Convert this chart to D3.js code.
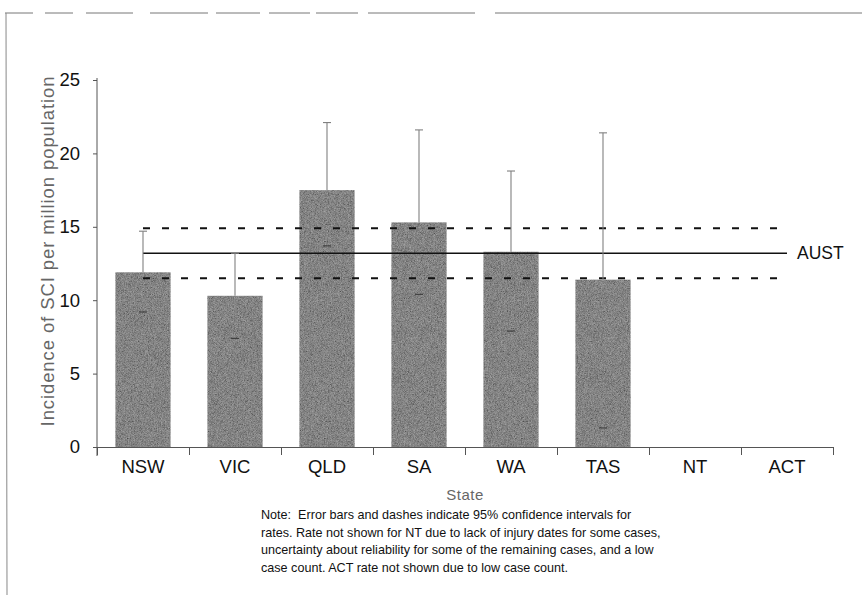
<!DOCTYPE html>
<html>
<head>
<meta charset="utf-8">
<script src="https://cdn.jsdelivr.net/npm/d3@7"></script>
<style>
  body { margin: 0; background: #fff; }
  svg { display: block; font-family: "Liberation Sans", Arial, sans-serif; }
</style>
</head>
<body>
<div id="chart"></div>
<script>
// incidence of SCI per million population, by state
var states = ['NSW', 'VIC', 'QLD', 'SA', 'WA', 'TAS', 'NT', 'ACT'];
var rates  = [11.9, 10.3, 17.5, 15.3, 13.3, 11.4, null, null];
var ciLow  = [9.2, 7.4, 13.7, 10.4, 7.9, 1.3, null, null];
var ciHigh = [14.7, 13.2, 22.1, 21.6, 18.8, 21.4, null, null];
var yTicks = [0, 5, 10, 15, 20, 25];
// national rate and its 95% CI
var aust = { label: 'AUST', rate: 13.2, low: 11.5, high: 14.9 };
var noteLines = [
  'Note:  Error bars and dashes indicate 95% confidence intervals for',
  'rates. Rate not shown for NT due to lack of injury dates for some cases,',
  'uncertainty about reliability for some of the remaining cases, and a low',
  'case count. ACT rate not shown due to low case count.'
];

var width = 862, height = 595;
var plotL = 97, plotR = 833, plotT = 80, plotB = 447;

var svg = d3.select('#chart').append('svg')
  .attr('width', width)
  .attr('height', height);

// grainy fill, like the printed bars
var f = svg.append('defs').append('filter').attr('id', 'grain')
  .attr('x', 0).attr('y', 0).attr('width', '100%').attr('height', '100%');
f.append('feTurbulence').attr('type', 'fractalNoise')
  .attr('baseFrequency', 1.3).attr('numOctaves', 2).attr('seed', 3).attr('result', 'noise');
f.append('feColorMatrix').attr('in', 'noise').attr('type', 'saturate')
  .attr('values', 0).attr('result', 'grey');
var ct = f.append('feComponentTransfer').attr('in', 'grey').attr('result', 'tone');
['feFuncR', 'feFuncG', 'feFuncB'].forEach(function (n) {
  ct.append(n).attr('type', 'linear').attr('slope', 0.5).attr('intercept', -0.02);
});
ct.append('feFuncA').attr('type', 'linear').attr('slope', 0).attr('intercept', 1);
f.append('feComposite').attr('in', 'tone').attr('in2', 'SourceGraphic').attr('operator', 'in');

// page frame (scanned look)
svg.append('line')
  .attr('x1', 5).attr('x2', 862).attr('y1', 13).attr('y2', 13)
  .attr('stroke', '#777').attr('stroke-width', 1)
  .attr('stroke-dasharray', '28 12 28 13 47 17 58 8 44 9 41 6 42 10 107 20 400');
svg.append('line')
  .attr('x1', 6).attr('x2', 7).attr('y1', 13).attr('y2', 595)
  .attr('stroke', '#888').attr('stroke-width', 1);

var x = d3.scaleBand().domain(states).range([plotL, plotR])
  .paddingInner(0.4).paddingOuter(0.2);
var xEdge = d3.scaleLinear().domain([0, states.length]).range([plotL, plotR]);
var y = d3.scaleLinear().domain([0, 25]).range([plotB, plotT]);
var cx = function (d) { return x(d.state) + x.bandwidth() / 2; };

var data = states.map(function (s, i) {
  return { state: s, rate: rates[i], lo: ciLow[i], hi: ciHigh[i] };
}).filter(function (d) { return d.rate != null; });

// bars
svg.append('g').selectAll('rect')
  .data(data).enter().append('rect')
  .attr('x', function (d) { return x(d.state); })
  .attr('width', x.bandwidth())
  .attr('y', function (d) { return y(d.rate); })
  .attr('height', function (d) { return y(0) - y(d.rate); })
  .attr('fill', '#6c6c6c')
  .attr('filter', 'url(#grain)');

// national line + CI dashes
var xa = x('NSW') + x.bandwidth() / 2, xb = x('ACT') + x.bandwidth() / 2;
svg.append('line')
  .attr('x1', xa).attr('x2', xb)
  .attr('y1', y(aust.rate)).attr('y2', y(aust.rate))
  .attr('stroke', '#111').attr('stroke-width', 1.6);
[aust.low, aust.high].forEach(function (v) {
  svg.append('line')
    .attr('x1', xa).attr('x2', xb)
    .attr('y1', y(v)).attr('y2', y(v))
    .attr('stroke', '#111').attr('stroke-width', 2)
    .attr('stroke-dasharray', '7 12');
});
svg.append('text')
  .attr('x', xb + 10).attr('y', y(aust.rate) + 6)
  .attr('font-size', 17.5).attr('fill', '#111')
  .text(aust.label);

// error bars: only the part above the bar shows in print, plus the low cap
var eb = svg.append('g').selectAll('g')
  .data(data).enter().append('g')
  .attr('stroke', '#808080').attr('stroke-width', 1.1);
eb.append('line')
  .attr('x1', cx).attr('x2', cx)
  .attr('y1', function (d) { return y(d.rate); })
  .attr('y2', function (d) { return y(d.hi); });
eb.append('line')
  .attr('x1', function (d) { return cx(d) - 4; })
  .attr('x2', function (d) { return cx(d) + 4; })
  .attr('y1', function (d) { return y(d.hi); })
  .attr('y2', function (d) { return y(d.hi); });
eb.append('line')
  .attr('x1', function (d) { return cx(d) - 4; })
  .attr('x2', function (d) { return cx(d) + 4; })
  .attr('y1', function (d) { return y(d.lo); })
  .attr('y2', function (d) { return y(d.lo); })
  .attr('stroke', '#3a3a3a');

// y axis
var yAxis = svg.append('g')
  .attr('transform', 'translate(' + plotL + ',0)')
  .call(d3.axisLeft(y).tickValues(yTicks).tickSize(4).tickPadding(13));
yAxis.select('.domain').remove();
yAxis.selectAll('line').attr('stroke', '#555');
yAxis.selectAll('text').attr('font-size', 18.5).attr('fill', '#111')
  .attr('font-family', '"Liberation Sans", Arial, sans-serif');
svg.append('line')
  .attr('x1', plotL).attr('x2', plotL).attr('y1', plotT - 2).attr('y2', plotB + 9)
  .attr('stroke', '#555').attr('stroke-width', 1);

// x axis: edge ticks + centred labels
var xTicks = svg.append('g')
  .attr('transform', 'translate(0,' + plotB + ')')
  .call(d3.axisBottom(xEdge).tickValues(d3.range(states.length + 1))
    .tickSize(8).tickFormat(''));
xTicks.selectAll('line, path').attr('stroke', '#555');
var xLabels = svg.append('g')
  .attr('transform', 'translate(0,' + plotB + ')')
  .call(d3.axisBottom(x).tickSize(0).tickPadding(13));
xLabels.select('.domain').remove();
xLabels.selectAll('text').attr('font-size', 18.5).attr('fill', '#111')
  .attr('font-family', '"Liberation Sans", Arial, sans-serif');

// axis titles
svg.append('text')
  .attr('transform', 'translate(54,251) rotate(-90)')
  .attr('text-anchor', 'middle')
  .attr('font-size', 18.5).attr('fill', '#666')
  .attr('letter-spacing', 0.9)
  .text('Incidence of SCI per million population');
svg.append('text')
  .attr('x', 465).attr('y', 500)
  .attr('text-anchor', 'middle')
  .attr('font-size', 15).attr('fill', '#666')
  .attr('letter-spacing', 0.5)
  .text('State');

// note
svg.append('g').selectAll('text')
  .data(noteLines).enter().append('text')
  .attr('x', 261)
  .attr('y', function (d, i) { return 519 + i * 17.6; })
  .attr('font-size', 12.6).attr('fill', '#111')
  .style('white-space', 'pre')
  .text(function (d) { return d; });
</script>
</body>
</html>
